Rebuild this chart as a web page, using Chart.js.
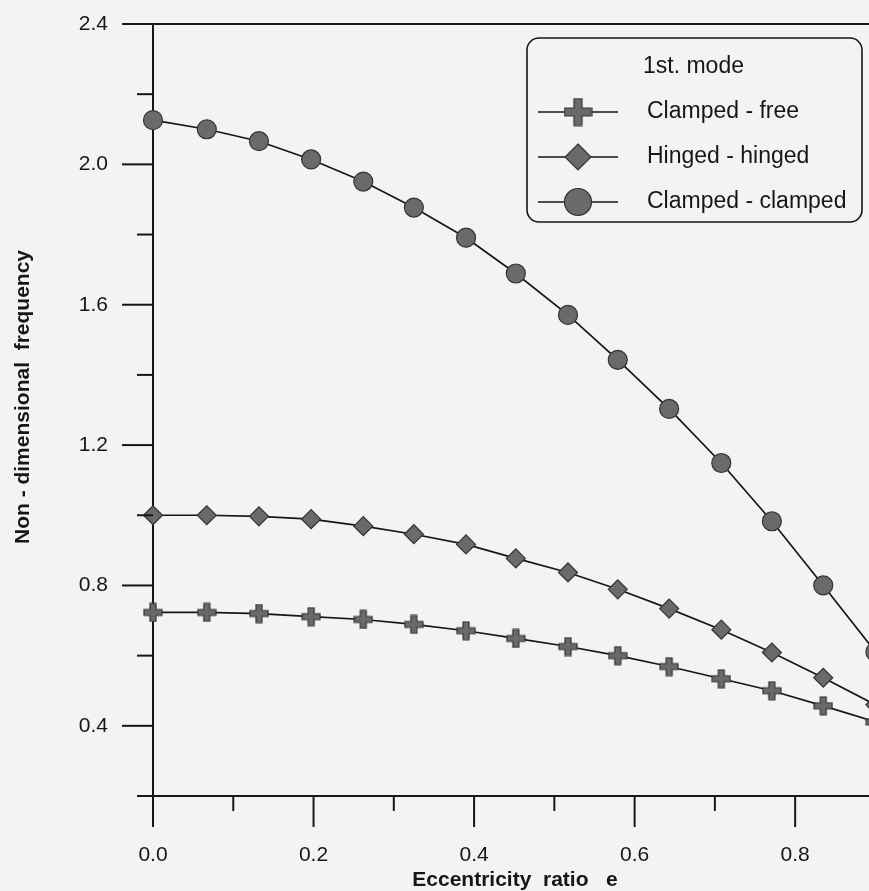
<!DOCTYPE html>
<html>
<head>
<meta charset="utf-8">
<script src="https://cdn.jsdelivr.net/npm/chart.js@4/dist/chart.umd.min.js"></script>
<style>
  html, body { margin: 0; padding: 0; background: #f3f3f2; overflow: hidden; }
  #wrap { width: 869px; height: 891px; position: relative; }
</style>
</head>
<body>
<div id="wrap"><canvas id="c" width="869" height="891"></canvas></div>
<script>
// ---- data ----
const eccentricity = [0, 0.067, 0.132, 0.197, 0.262, 0.325, 0.39, 0.452, 0.517, 0.579, 0.643, 0.708, 0.771, 0.835, 0.9];
const clampedFree    = [0.723, 0.723, 0.720, 0.711, 0.703, 0.689, 0.671, 0.649, 0.626, 0.600, 0.569, 0.534, 0.500, 0.457, 0.411];
const hingedHinged   = [1.000, 1.000, 0.997, 0.989, 0.969, 0.946, 0.917, 0.877, 0.837, 0.789, 0.734, 0.674, 0.609, 0.537, 0.460];
const clampedClamped = [2.126, 2.100, 2.066, 2.014, 1.951, 1.877, 1.791, 1.689, 1.571, 1.443, 1.303, 1.149, 0.983, 0.800, 0.611];
const seriesLabels = ['Clamped - free', 'Hinged - hinged', 'Clamped - clamped'];
const legendTitle = '1st. mode';
const xTickValues = [0, 0.1, 0.2, 0.3, 0.4, 0.5, 0.6, 0.7, 0.8];
const xTickLabels = ['0.0', '', '0.2', '', '0.4', '', '0.6', '', '0.8'];
const yTickValues = [0.2, 0.4, 0.6, 0.8, 1.0, 1.2, 1.4, 1.6, 1.8, 2.0, 2.2, 2.4];
const yTickLabels = ['', '0.4', '', '0.8', '', '1.2', '', '1.6', '', '2.0', '', '2.4'];
const xTitle = 'Eccentricity  ratio   e';
const yTitle = 'Non - dimensional  frequency';

const FONT = '"Liberation Sans", Arial, sans-serif';
const INK = '#161616';
const MARK_FILL = '#6a6a6a';
const MARK_EDGE = '#333333';

function makeCross(size, arm) {
  const c = document.createElement('canvas');
  c.width = size + 2; c.height = size + 2;
  const g = c.getContext('2d');
  const o = 1, s = size, h = arm / 2, m = s / 2;
  g.beginPath();
  g.moveTo(o + m - h, o); g.lineTo(o + m + h, o); g.lineTo(o + m + h, o + m - h);
  g.lineTo(o + s, o + m - h); g.lineTo(o + s, o + m + h); g.lineTo(o + m + h, o + m + h);
  g.lineTo(o + m + h, o + s); g.lineTo(o + m - h, o + s); g.lineTo(o + m - h, o + m + h);
  g.lineTo(o, o + m + h); g.lineTo(o, o + m - h); g.lineTo(o + m - h, o + m - h);
  g.closePath();
  g.fillStyle = MARK_FILL; g.fill();
  g.lineWidth = 1.2; g.strokeStyle = MARK_EDGE; g.stroke();
  return c;
}
const crossSmall = makeCross(18, 6);
const crossBig = makeCross(27, 8);

function pts(ys) { return eccentricity.map((x, i) => ({ x: x, y: ys[i] })); }

const common = {
  borderColor: INK, borderWidth: 1.7, backgroundColor: MARK_FILL,
  pointBackgroundColor: MARK_FILL, pointBorderColor: MARK_EDGE, pointBorderWidth: 1.2,
  tension: 0, clip: false, showLine: true, fill: false
};

const data = {
  datasets: [
    Object.assign({}, common, { label: seriesLabels[0], data: pts(clampedFree), pointStyle: crossSmall, pointRadius: 9, legendKind: 'cross' }),
    Object.assign({}, common, { label: seriesLabels[1], data: pts(hingedHinged), pointStyle: 'rectRot', pointRadius: 9.5, legendKind: 'diamond' }),
    Object.assign({}, common, { label: seriesLabels[2], data: pts(clampedClamped), pointStyle: 'circle', pointRadius: 9.5, legendKind: 'circle' })
  ]
};

const decor = {
  id: 'decor',
  beforeDraw(chart) {
    const ctx = chart.ctx;
    ctx.save();
    ctx.fillStyle = '#f3f3f2';
    ctx.fillRect(0, 0, chart.width, chart.height);
    ctx.restore();
  },
  afterDraw(chart) {
    const ctx = chart.ctx;
    const ca = chart.chartArea;
    const xs = chart.scales.x, ys = chart.scales.y;
    ctx.save();
    ctx.strokeStyle = INK;
    ctx.lineWidth = 2;
    // top frame line
    ctx.beginPath(); ctx.moveTo(ca.left, ca.top); ctx.lineTo(chart.width, ca.top); ctx.stroke();
    // y tick marks (outward)
    ys.ticks.forEach((t) => {
      const y = ys.getPixelForValue(t.value);
      const major = t.label !== '' && t.label != null;
      const len = major ? 31 : 16;
      ctx.beginPath(); ctx.moveTo(ca.left - len, y); ctx.lineTo(ca.left, y); ctx.stroke();
    });
    // x tick marks (outward)
    xs.ticks.forEach((t) => {
      const x = xs.getPixelForValue(t.value);
      const major = t.label !== '' && t.label != null;
      const len = major ? 31 : 15;
      ctx.beginPath(); ctx.moveTo(x, ca.bottom); ctx.lineTo(x, ca.bottom + len); ctx.stroke();
    });
    // axis titles
    ctx.fillStyle = INK;
    ctx.font = 'bold 21px ' + FONT;
    ctx.textAlign = 'center'; ctx.textBaseline = 'middle';
    ctx.fillText(xTitle, 515, 880);
    ctx.save();
    ctx.translate(23, 397);
    ctx.rotate(-Math.PI / 2);
    ctx.fillText(yTitle, 0, 0);
    ctx.restore();

    // legend box
    const bx = 527, by = 38, bw = 335, bh = 184, r = 12;
    ctx.fillStyle = '#f3f3f2';
    ctx.lineWidth = 1.6;
    ctx.beginPath();
    ctx.moveTo(bx + r, by); ctx.lineTo(bx + bw - r, by); ctx.arcTo(bx + bw, by, bx + bw, by + r, r);
    ctx.lineTo(bx + bw, by + bh - r); ctx.arcTo(bx + bw, by + bh, bx + bw - r, by + bh, r);
    ctx.lineTo(bx + r, by + bh); ctx.arcTo(bx, by + bh, bx, by + bh - r, r);
    ctx.lineTo(bx, by + r); ctx.arcTo(bx, by, bx + r, by, r);
    ctx.closePath(); ctx.fill(); ctx.stroke();

    ctx.fillStyle = INK;
    ctx.font = '23px ' + FONT;
    ctx.textAlign = 'left'; ctx.textBaseline = 'middle';
    ctx.fillText(legendTitle, 643, 67);
    const rows = [112, 157, 202];
    chart.data.datasets.forEach((ds, i) => {
      const y = rows[i];
      ctx.strokeStyle = INK; ctx.lineWidth = 1.6;
      ctx.beginPath(); ctx.moveTo(538, y); ctx.lineTo(618, y); ctx.stroke();
      const mx = 578;
      ctx.fillStyle = MARK_FILL; ctx.strokeStyle = MARK_EDGE; ctx.lineWidth = 1.2;
      if (ds.legendKind === 'cross') {
        ctx.drawImage(crossBig, mx - crossBig.width / 2, y - crossBig.height / 2);
      } else if (ds.legendKind === 'diamond') {
        const d = 13;
        ctx.beginPath(); ctx.moveTo(mx, y - d); ctx.lineTo(mx + d, y); ctx.lineTo(mx, y + d); ctx.lineTo(mx - d, y); ctx.closePath();
        ctx.fill(); ctx.stroke();
      } else {
        ctx.beginPath(); ctx.arc(mx, y, 13.5, 0, Math.PI * 2); ctx.fill(); ctx.stroke();
      }
      ctx.fillStyle = INK;
      ctx.fillText(ds.label, 647, y);
    });
    ctx.restore();
  }
};

new Chart(document.getElementById('c'), {
  type: 'scatter',
  data: data,
  plugins: [decor],
  options: {
    responsive: false,
    animation: false,
    layout: { autoPadding: false, padding: { top: 24, left: 0, right: 0, bottom: 0 } },
    plugins: { legend: { display: false }, tooltip: { enabled: false } },
    scales: {
      x: {
        type: 'linear', min: 0, max: 0.892,
        afterBuildTicks(s) { s.ticks = xTickValues.map(v => ({ value: v })); },
        afterFit(s) { s.height = 95; s.paddingLeft = 0; s.paddingRight = 0; },
        grid: { display: false, drawTicks: false },
        border: { display: true, color: INK, width: 2 },
        ticks: {
          padding: 47, color: INK, font: { family: FONT, size: 21 },
          maxRotation: 0, autoSkip: false,
          callback(v) { const i = xTickValues.findIndex(t => Math.abs(t - v) < 1e-6); return i >= 0 ? xTickLabels[i] : ''; }
        }
      },
      y: {
        type: 'linear', min: 0.2, max: 2.4,
        afterBuildTicks(s) { s.ticks = yTickValues.map(v => ({ value: v })); },
        afterFit(s) { s.width = 153; s.paddingTop = 0; s.paddingBottom = 0; },
        grid: { display: false, drawTicks: false },
        border: { display: true, color: INK, width: 2 },
        ticks: {
          padding: 45, color: INK, font: { family: FONT, size: 21 }, autoSkip: false,
          callback(v) { const i = yTickValues.findIndex(t => Math.abs(t - v) < 1e-6); return i >= 0 ? yTickLabels[i] : ''; }
        }
      }
    }
  }
});
</script>
</body>
</html>
